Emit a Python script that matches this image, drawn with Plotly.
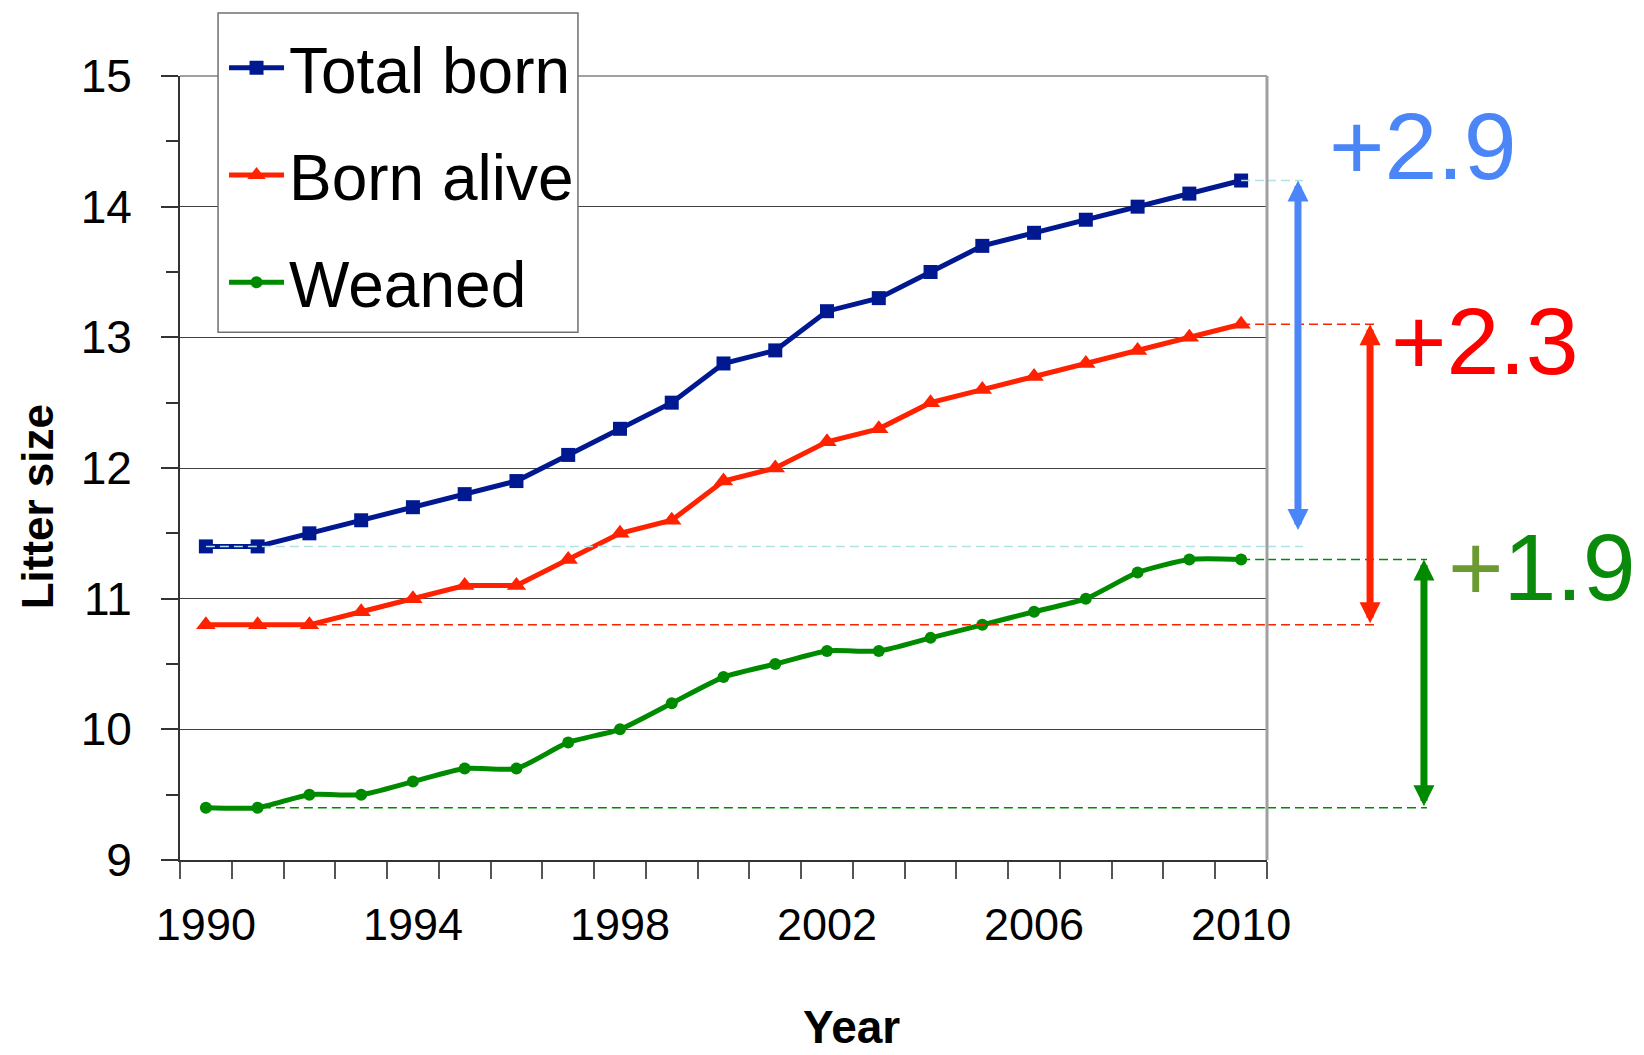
import plotly.graph_objects as go

years = list(range(1990, 2011))
total_born = [11.4, 11.4, 11.5, 11.6, 11.7, 11.8, 11.9, 12.1, 12.3, 12.5, 12.8,
              12.9, 13.2, 13.3, 13.5, 13.7, 13.8, 13.9, 14.0, 14.1, 14.2]
born_alive = [10.8, 10.8, 10.8, 10.9, 11.0, 11.1, 11.1, 11.3, 11.5, 11.6, 11.9,
              12.0, 12.2, 12.3, 12.5, 12.6, 12.7, 12.8, 12.9, 13.0, 13.1]
weaned = [9.4, 9.4, 9.5, 9.5, 9.6, 9.7, 9.7, 9.9, 10.0, 10.2, 10.4,
          10.5, 10.6, 10.6, 10.7, 10.8, 10.9, 11.0, 11.2, 11.3, 11.3]
series_names = ['Total born', 'Born alive', 'Weaned']
gain_labels = ['+2.9', '+2.3', '<span style="color:#6a9a30">+</span>1.9']
x_label_years = [1990, 1994, 1998, 2002, 2006, 2010]
y_ticks = [9, 10, 11, 12, 13, 14, 15]

FONT = 'Liberation Sans, Arial, Helvetica, sans-serif'

NAVY = '#001890'
RED = '#ff2200'
GREEN = '#008a00'
LIGHT_BLUE = '#4a86f8'

fig = go.Figure()

fig.add_trace(go.Scatter(x=years, y=total_born, name=series_names[0], legendgroup='a',
                         mode='lines+markers', line=dict(color=NAVY, width=5),
                         marker=dict(symbol='square', size=14, color=NAVY)))
fig.add_trace(go.Scatter(x=years, y=born_alive, name=series_names[1], legendgroup='b',
                         mode='lines+markers', line=dict(color=RED, width=5),
                         marker=dict(symbol='triangle-up', size=17, color=RED)))
fig.add_trace(go.Scatter(x=years, y=weaned, name=series_names[2], legendgroup='c',
                         mode='lines+markers', line=dict(color=GREEN, width=5, shape='spline', smoothing=0.6),
                         marker=dict(symbol='circle', size=12, color=GREEN)))

# dashed guide lines (inside part on data axes, outside part in paper x)
guides = [
    (years[-1], total_born[-1], '#b0e0e8', 1.0331),
    (years[0], total_born[0], '#b0e0e8', 1.0331),
    (years[-1], born_alive[-1], RED, 1.0994),
    (years[0], born_alive[0], RED, 1.0994),
    (years[-1], weaned[-1], GREEN, 1.1472),
    (years[0], weaned[0], GREEN, 1.1472),
]
for x_start, y_val, col, x_end in guides:
    dash = dict(color=col, width=1.5, dash='9px,5px')
    fig.add_shape(type='line', xref='x', yref='y', x0=x_start, x1=years[-1] + 0.5,
                  y0=y_val, y1=y_val, line=dash, layer='above')
    fig.add_shape(type='line', xref='paper', yref='y', x0=1, x1=x_end,
                  y0=y_val, y1=y_val, line=dash, layer='above')

# plot frame on top and right
fig.add_shape(type='line', xref='paper', yref='paper', x0=0, x1=1, y0=1, y1=1,
              line=dict(color='#a0a0a0', width=2), layer='above')
fig.add_shape(type='line', xref='paper', yref='paper', x0=1, x1=1, y0=0, y1=1,
              line=dict(color='#a0a0a0', width=3), layer='above')

# legend frame (legend itself is drawn transparent on top)
fig.add_shape(type='rect', xref='paper', yref='paper', x0=0.035, x1=0.3661, y0=0.673, y1=1.0802,
              line=dict(color='#707070', width=1.5), fillcolor='white', layer='above')

# double arrows
arrows = [
    (1.0285, total_born[-1], total_born[0], LIGHT_BLUE, 15),
    (1.0948, born_alive[-1], born_alive[0], RED, 0),
    (1.1444, weaned[-1], weaned[0], GREEN, 0),
]
for xp, y_top, y_bot, col, sso in arrows:
    fig.add_annotation(xref='paper', yref='y', x=xp, y=y_top, ax=0, ayref='y', ay=y_bot,
                       text='', showarrow=True, arrowside='end+start', arrowhead=2,
                       startarrowhead=2, arrowwidth=7, arrowsize=0.6, startarrowsize=0.6,
                       arrowcolor=col, startstandoff=sso)

gain_pos = [(1.1435, 0.911, LIGHT_BLUE), (1.2008, 0.662, '#ff0000'), (1.2530, 0.374, '#0a8a0a')]
for label, (xp, yp, col) in zip(gain_labels, gain_pos):
    fig.add_annotation(xref='paper', yref='paper', x=xp, y=yp, text=label, showarrow=False,
                       xanchor='center', yanchor='middle',
                       font=dict(family=FONT, size=95, color=col))

fig.add_annotation(xref='paper', yref='paper', x=(843 - 172) / 1087, y=-0.249, text='<b>Year</b>',
                   showarrow=False, xanchor='center', yanchor='bottom',
                   font=dict(family=FONT, size=46, color='black'))
fig.add_annotation(xref='paper', yref='paper', x=-0.1316, y=0.451, text='<b>Litter size</b>',
                   textangle=-90, showarrow=False, xanchor='center', yanchor='middle',
                   font=dict(family=FONT, size=44, color='black'))

fig.update_xaxes(range=[years[0] - 0.5, years[-1] + 0.5], tickvals=x_label_years,
                 ticks='', showgrid=False, zeroline=False,
                 showline=True, linecolor='#333333', linewidth=2,
                 tickfont=dict(family=FONT, size=45, color='black'),
                 ticklabelstandoff=24,
                 minor=dict(tickvals=[y - 0.5 for y in years] + [years[-1] + 0.5],
                            ticks='outside', ticklen=17, tickwidth=1.5, tickcolor='#555555',
                            showgrid=False))
fig.update_yaxes(range=[y_ticks[0], y_ticks[-1]], tickvals=y_ticks,
                 ticks='outside', ticklen=17, tickwidth=1.5, tickcolor='#333333',
                 showgrid=True, gridcolor='#404040', gridwidth=1.2, zeroline=False,
                 showline=True, linecolor='#333333', linewidth=2,
                 tickfont=dict(family=FONT, size=46, color='black'),
                 ticklabelstandoff=20,
                 minor=dict(dtick=0.5, tick0=9, ticks='outside', ticklen=12, tickwidth=1.5,
                            tickcolor='#333333', showgrid=False))

fig.update_layout(
    width=1636, height=1047,
    margin=dict(l=172, r=377, t=67.5, b=195, autoexpand=False),
    plot_bgcolor='white', paper_bgcolor='white',
    showlegend=True,
    legend=dict(x=0.0405, y=1.0718, xanchor='left', yanchor='top',
                bgcolor='rgba(0,0,0,0)', borderwidth=0,
                font=dict(family=FONT, size=64, color='black'),
                tracegroupgap=21, itemwidth=55),
)

fig.write_html("out.html")
